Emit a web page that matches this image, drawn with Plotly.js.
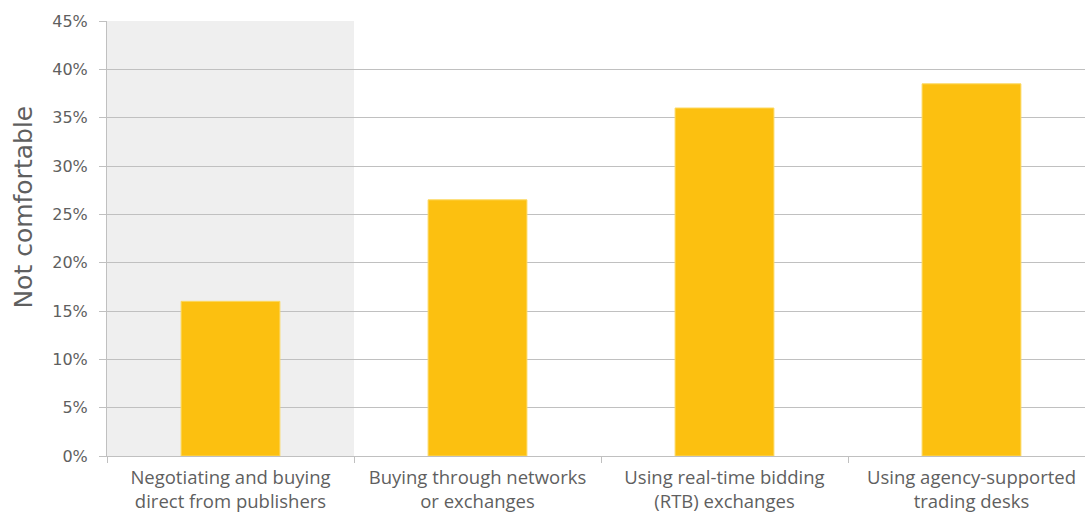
<!DOCTYPE html>
<html>
<head>
<meta charset="utf-8">
<script src="https://cdn.plot.ly/plotly-3.0.1.min.js"></script>
<style>
html,body{margin:0;padding:0;background:#fff;overflow:hidden;}
#chart{width:1096px;height:512px;}
</style>
</head>
<body>
<div id="chart"></div>
<script>
const categories = [
  "Negotiating and buying<br>direct from publishers",
  "Buying through networks<br>or exchanges",
  "Using real-time bidding<br>(RTB) exchanges",
  "Using agency-supported<br>trading desks"
];
const notComfortable = [16, 26.5, 36, 38.5];
const yTickVals = [0, 5, 10, 15, 20, 25, 30, 35, 40, 45];
const yTickText = ["0%", "5%", "10%", "15%", "20%", "25%", "30%", "35%", "40%", "45%"];
const yTitle = "Not comfortable";

const catFont = "'Open Sans', Roboto, sans-serif";
const numFont = "'DejaVu Sans', Verdana, sans-serif";
const textColor = "#5f5f5f";

const trace = {
  type: "bar",
  x: categories,
  y: notComfortable,
  width: 0.4,
  marker: {color: "#FCC010", line: {color: "#FCD860", width: 1}},
  hoverinfo: "none"
};

const layout = {
  width: 1096,
  height: 512,
  margin: {l: 107, r: 1, t: 21, b: 56},
  paper_bgcolor: "#ffffff",
  plot_bgcolor: "#ffffff",
  showlegend: false,
  font: {family: catFont, color: textColor, size: 16},
  xaxis: {
    type: "category",
    tickson: "boundaries",
    ticks: "outside",
    ticklen: 6,
    tickcolor: "#c0c0c0",
    showline: true,
    linecolor: "#c0c0c0",
    linewidth: 1,
    showgrid: false,
    tickfont: {family: catFont, size: 18.5, color: textColor},
    ticklabelstandoff: 5,
    automargin: false,
    range: [-0.5, 3.5]
  },
  yaxis: {
    range: [0, 45],
    tickvals: yTickVals,
    ticktext: yTickText,
    ticks: "outside",
    ticklen: 7,
    tickcolor: "#c0c0c0",
    showline: true,
    linecolor: "#c0c0c0",
    linewidth: 1,
    showgrid: true,
    gridcolor: "#c0c0c0",
    gridwidth: 1,
    zeroline: false,
    tickfont: {family: numFont, size: 16, color: textColor},
    ticklabelstandoff: 8,
    automargin: false
  },
  shapes: [{
    type: "rect", layer: "below",
    xref: "x", yref: "y",
    x0: -0.5, x1: 0.5, y0: 0, y1: 45,
    fillcolor: "#efefef", line: {width: 0}
  }],
  annotations: [{
    text: yTitle,
    xref: "paper", yref: "paper",
    x: 0, y: 0.571, xshift: -83,
    xanchor: "center", yanchor: "middle",
    textangle: -90,
    showarrow: false,
    font: {family: numFont, size: 25, color: textColor}
  }]
};

Plotly.newPlot("chart", [trace], layout, {displayModeBar: false, staticPlot: true});
</script>
</body>
</html>
